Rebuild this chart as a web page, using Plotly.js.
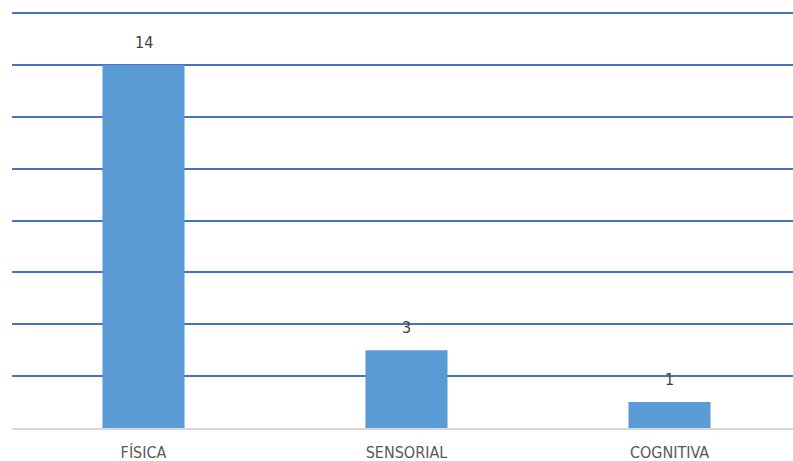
<!DOCTYPE html>
<html>
<head>
<meta charset="utf-8">
<script src="https://cdn.plot.ly/plotly-3.0.1.min.js"></script>
<style>html,body{margin:0;padding:0;background:#fff;}#chart{width:793px;height:461px;}</style>
</head>
<body>
<div id="chart"></div>
<script>
const categories = ["FÍSICA", "SENSORIAL", "COGNITIVA"];
const values = [14, 3, 1];

const fontFam = '"Liberation Sans Narrow", "DejaVu Sans Condensed", "Roboto Condensed", Arial, sans-serif';

const trace = {
  type: 'bar',
  x: categories,
  y: values,
  width: 0.312,
  marker: {color: '#5B9BD5'},
  hoverinfo: 'skip'
};

const annotations = categories.map((c, i) => ({
  x: c, y: values[i], xref: 'x', yref: 'y',
  text: String(values[i]), showarrow: false,
  yanchor: 'bottom', yshift: 11,
  font: {family: fontFam, size: 16, color: '#404040'}
}));

const layout = {
  width: 793, height: 461,
  margin: {l: 12, r: 0, t: 8, b: 33},
  paper_bgcolor: '#fff', plot_bgcolor: '#fff',
  showlegend: false,
  xaxis: {
    type: 'category',
    range: [-0.5, -0.5 + 781/263],
    showgrid: false, zeroline: false,
    showline: true, linecolor: '#D9D9D9', linewidth: 2,
    ticks: '', ticklabelstandoff: 9,
    tickfont: {family: fontFam, size: 16, color: '#595959'},
    fixedrange: true
  },
  yaxis: {
    range: [0, 16.2], dtick: 2, tick0: 0,
    showgrid: true, gridcolor: '#4472C4', gridwidth: 2,
    zeroline: false, showticklabels: false, ticks: '',
    fixedrange: true
  },
  annotations: annotations
};

Plotly.newPlot('chart', [trace], layout, {staticPlot: true, displayModeBar: false});
</script>
</body>
</html>
